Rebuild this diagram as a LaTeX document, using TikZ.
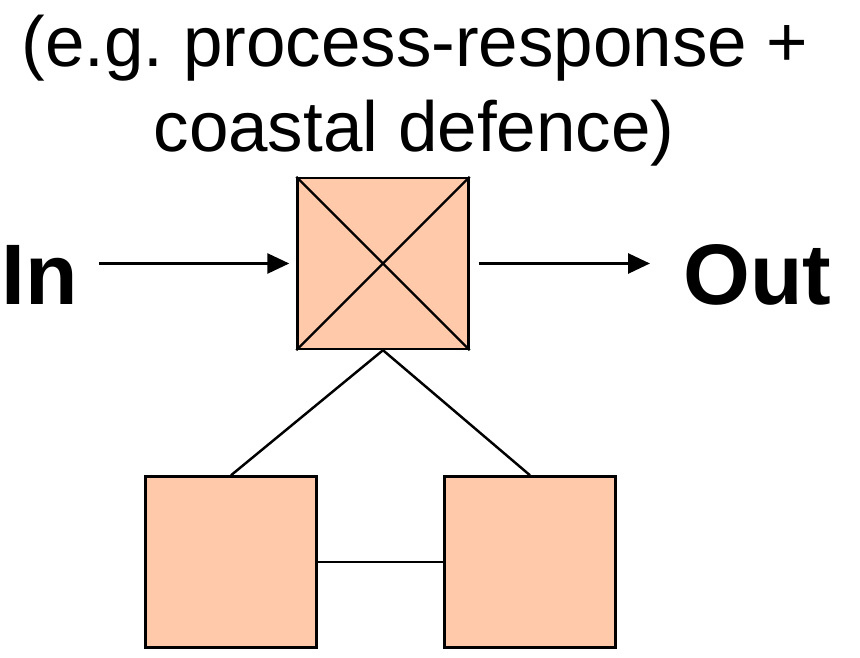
\documentclass[tikz,border=0pt]{standalone}
\usepackage{fontspec}
\setmainfont{Liberation Sans}
\usetikzlibrary{arrows.meta, positioning}
\definecolor{peach}{RGB}{255,201,170}
\frenchspacing

\begin{document}
\begin{tikzpicture}[x=0.02cm, y=-0.02cm,
    box/.style={draw, line width=1.4pt, fill=peach, minimum width=3.42cm, minimum height=3.42cm, inner sep=0pt},
    lbl/.style={inner sep=0pt, font=\fontsize{48.9}{58}\selectfont\bfseries},
    ttl/.style={inner sep=0pt, font=\fontsize{40.4}{48}\selectfont},
    arr/.style={-{Triangle[length=0.44cm, width=0.4cm]}, line width=1.6pt}]
  \useasboundingbox (0,0) rectangle (860,658);
  %titre
  \node[ttl, anchor=base] (title1) at (415,67) {(e.g. process-response +};
  \node[ttl, anchor=base] (title2) at (414,152) {coastal defence)};
  %systeme
  \node[box] (sys) at (383,263.5) {};
  \draw[line width=1.4pt] (sys.north west) -- (sys.south east);
  \draw[line width=1.4pt] (sys.south west) -- (sys.north east);
  \node[box] (left) at (231,562) {};
  \node[box] (right) at (530,562) {};
  \draw[line width=1.4pt] (sys.south) -- (left.north);
  \draw[line width=1.4pt] (sys.south) -- (right.north);
  \draw[line width=1.4pt] (left.east) -- (right.west);
  %entree et sortie
  \node[lbl, anchor=base west] (in) at (1.5,305) {In};
  \node[lbl, anchor=base west] (out) at (683,305) {Out};
  \draw[arr, shorten <=0.4cm, shorten >=0.14cm] (sys.west -| in.east) -- (sys.west);
  \draw[arr, shorten <=0.18cm, shorten >=0.66cm] (sys.east) -- (sys.east -| out.west);
\end{tikzpicture}
\end{document}
